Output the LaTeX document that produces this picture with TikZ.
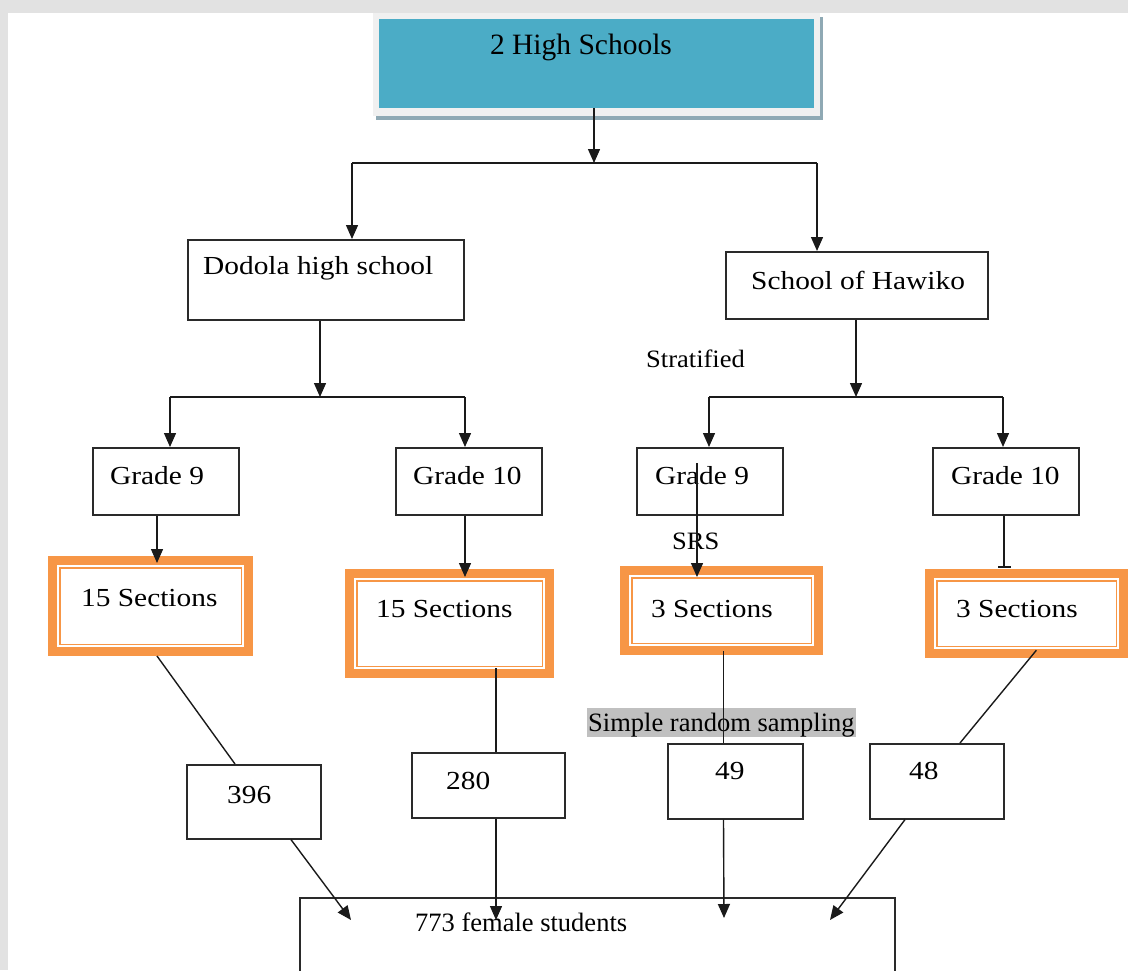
\documentclass[tikz,border=0pt]{standalone}
\usepackage{fontspec}
\setmainfont{Liberation Serif}
\newfontfamily\widefont[FakeStretch=1.13]{Liberation Serif}
\newfontfamily\midfont[FakeStretch=1.06]{Liberation Serif}
\usetikzlibrary{arrows.meta,calc}
\definecolor{bgray}{HTML}{E2E2E2}
\definecolor{hsblue}{HTML}{4BACC6}
\definecolor{shad}{HTML}{8FA9B4}
\definecolor{framec}{HTML}{F0F0F0}
\definecolor{orng}{HTML}{F79646}
\definecolor{hlc}{HTML}{C0C0C0}
\definecolor{lnc}{HTML}{1A1A1A}
\definecolor{boxc}{HTML}{2A2A2A}
\begin{document}
\begin{tikzpicture}[x=1pt,y=-1pt,
  box/.style={draw=boxc,line width=1.6pt,fill=white,anchor=north west,inner sep=0pt},
  secbox/.style={draw=orng,line width=9pt,fill=white,anchor=north west,inner sep=0pt},
  wtxt/.style={font=\widefont\fontsize{26}{28}\selectfont,inner sep=0pt,anchor=base west},
  mtxt/.style={font=\midfont\fontsize{25}{27}\selectfont,inner sep=0pt,anchor=base west},
  conn/.style={draw=lnc,line width=1.4pt},
  arr/.style={conn,-{Triangle[length=14pt,width=12pt]}}
]
\useasboundingbox (0,0) rectangle (1128,970);
% page background
\fill[bgray] (0,0) rectangle (1128,970);
\fill[white] (8,13) rectangle (1128,970);

% top box with frame and shadow
\fill[shad] (376,17) rectangle (823,120);
\fill[framec] (373,13) rectangle (820,116);
\node[anchor=north west,fill=hsblue,inner sep=0pt,outer sep=0pt,minimum width=435pt,minimum height=89pt] (hs) at (379,19) {};
\node[font=\fontsize{29.5}{31}\selectfont,inner sep=0pt,anchor=base] (hsT) at (581,54) {2 High Schools};

% schools
\node[box,minimum width=276pt,minimum height=80pt] (dodola) at (187,239) {};
\node[wtxt] (dodolaT) at (203,274) {Dodola high school};
\node[box,minimum width=262pt,minimum height=67pt] (hawiko) at (725,251) {};
\node[wtxt] (hawikoT) at (751,289) {School of Hawiko};
\node[mtxt] (strat) at (646,367) {Stratified};

% grades
\node[box,minimum width=146pt,minimum height=67pt] (g1) at (92,447) {};
\node[wtxt] (g1T) at (110,484) {Grade 9};
\node[box,minimum width=146pt,minimum height=67pt] (g2) at (395,447) {};
\node[wtxt] (g2T) at (413,484) {Grade 10};
\node[box,minimum width=146pt,minimum height=67pt] (g3) at (636,447) {};
\node[wtxt] (g3T) at (655,484) {Grade 9};
\node[box,minimum width=146pt,minimum height=67pt] (g4) at (932,447) {};
\node[wtxt] (g4T) at (951,484) {Grade 10};
\node[mtxt] (srs) at (672,549) {SRS};

% sections (anchor north west = outer edge of the thick border)
\node[secbox,minimum width=196pt,minimum height=91pt] (s1) at (48,556) {};
\node[secbox,minimum width=200pt,minimum height=100pt] (s2) at (345,569) {};
\node[secbox,minimum width=194pt,minimum height=80pt] (s3) at (620,566) {};
\node[secbox,minimum width=194pt,minimum height=80pt] (s4) at (925,569) {};
\foreach \sb in {s1,s2,s3,s4}{
  \draw[orng,line width=1.8pt] ($(\sb.north west)+(11.6,11.6)$) rectangle ($(\sb.south east)+(-11.6,-11.6)$);
}
\node[wtxt] (s1T) at (81,606) {15 Sections};
\node[wtxt] (s2T) at (376,617) {15 Sections};
\node[wtxt] (s3T) at (651,617) {3 Sections};
\node[wtxt] (s4T) at (956,617) {3 Sections};

% sampling label
\node[font=\fontsize{26.5}{28}\selectfont,fill=hlc,inner xsep=1pt,inner ysep=0pt,text height=23pt,text depth=6pt,anchor=base west] (srsamp) at (587,731) {Simple random sampling};

% counts
\node[box,minimum width=134pt,minimum height=74pt] (n1) at (186,764) {};
\node[wtxt] (n1T) at (227,803) {396};
\node[box,minimum width=153pt,minimum height=65pt] (n2) at (411,752) {};
\node[wtxt] (n2T) at (446,789) {280};
\node[box,minimum width=135pt,minimum height=75pt] (n3) at (667,743) {};
\node[wtxt] (n3T) at (715,779) {49};
\node[box,minimum width=134pt,minimum height=75pt] (n4) at (869,743) {};
\node[wtxt] (n4T) at (909,779) {48};

% final
\node[box,minimum width=595pt,minimum height=110pt] (fin) at (299,897) {};
\node[font=\fontsize{26.5}{28}\selectfont,inner sep=0pt,anchor=base west] (finT) at (415,931) {773 female students};

% junction coordinates
\coordinate (j0) at (594,163);
\coordinate (j0L) at (352,163);
\coordinate (j0R) at (817,163);
\coordinate (j1) at (320,397);
\coordinate (j1L) at (170,397);
\coordinate (j1R) at (465,397);
\coordinate (j2) at (856,397);
\coordinate (j2L) at (709,397);
\coordinate (j2R) at (1003,397);
\coordinate (c1) at (157,530);
\coordinate (c2) at (465,530);
\coordinate (c3) at (697,463);
\coordinate (c4) at (1004,530);
\coordinate (d1) at (235,700);
\coordinate (e2) at (496,700);
\coordinate (e3) at (723.5,700);
\coordinate (e4a) at (1030,700);
\coordinate (e4b) at (960,700);
\coordinate (f1a) at (291,860);
\coordinate (f4a) at (905,860);
\coordinate (f1b) at (351,920);
\coordinate (f2b) at (496,920);
\coordinate (f3b) at (724,918);
\coordinate (f4b) at (830,920);

% connectors
\draw[arr] (hs.south -| j0) -- (j0);
\draw[conn] (j0L) -- (j0R);
\draw[arr] (j0L) -- (dodola.north -| j0L);
\draw[arr] (j0R) -- (hawiko.north -| j0R);

\draw[arr] (dodola.south -| j1) -- (j1);
\draw[conn] (j1L) -- (j1R);
\draw[arr] (j1L) -- (g1.north -| j1L);
\draw[arr] (j1R) -- (g2.north -| j1R);

\draw[arr] (hawiko.south -| j2) -- (j2);
\draw[conn] (j2L) -- (j2R);
\draw[arr] (j2L) -- (g3.north -| j2L);
\draw[arr] (j2R) -- (g4.north -| j2R);

\draw[arr,shorten >=-7pt] (g1.south -| c1) -- (s1.north -| c1);
\draw[arr,shorten >=-8pt] (g2.south -| c2) -- (s2.north -| c2);
\draw[arr,shorten >=-11pt] (c3) -- (s3.north -| c3);
\draw[conn,-{Bar[width=13pt,line width=2.5pt]},shorten >=1pt] (g4.south -| c4) -- (s4.north -| c4);

\draw[conn] (s1.south -| c1) -- (n1.north -| d1);
\draw[conn,shorten <=-10pt] (s2.south -| e2) -- (n2.north -| e2);
\draw[conn,shorten <=-4pt] (s3.south -| e3) -- (n3.north -| e3);
\draw[conn,shorten <=-10pt] (s4.south -| e4a) -- (n4.north -| e4b);

\draw[arr] (n1.south -| f1a) -- (f1b);
\draw[arr] (n2.south -| e2) -- (f2b);
\draw[arr] (n3.south -| e3) -- (f3b);
\draw[arr] (n4.south -| f4a) -- (f4b);
\end{tikzpicture}
\end{document}
